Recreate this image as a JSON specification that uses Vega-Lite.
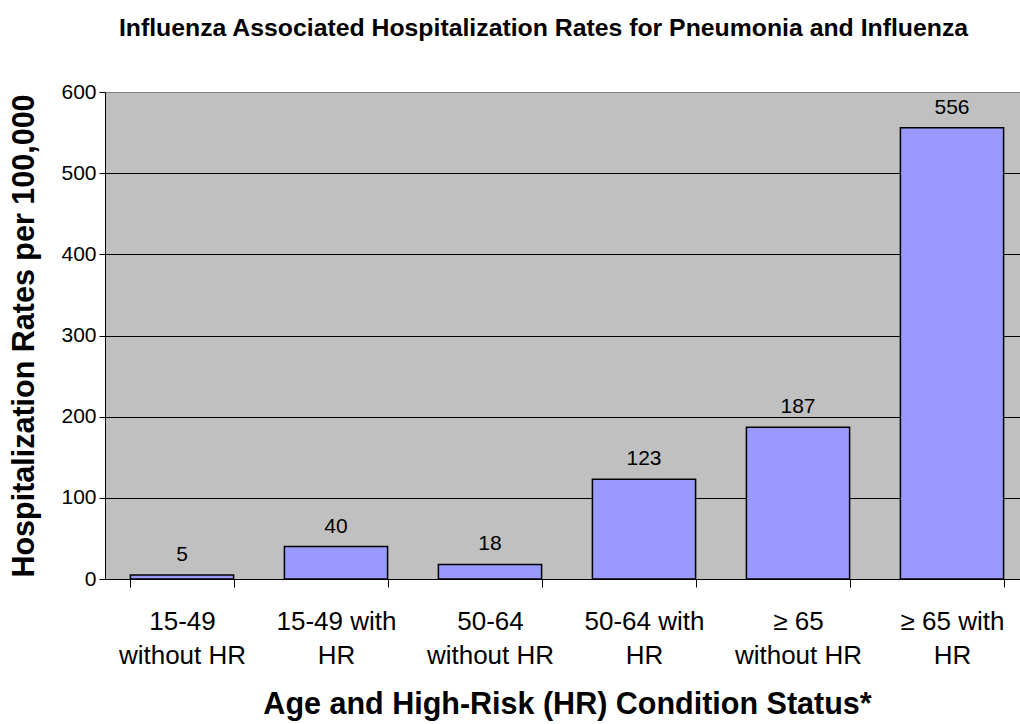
{
  "$schema": "https://vega.github.io/schema/vega-lite/v6.json",
  "width": 915,
  "height": 487,
  "autosize": {"type": "none"},
  "padding": {"left": 105, "top": 92, "right": 0, "bottom": 145},
  "background": "white",
  "config": {
    "font": "Liberation Sans",
    "view": {"fill": "#C0C0C0", "stroke": null}
  },
  "title": {
    "text": "Influenza Associated Hospitalization Rates for Pneumonia and Influenza",
    "fontSize": 24.8,
    "fontWeight": "bold",
    "color": "black",
    "anchor": "middle",
    "frame": "group",
    "dx": -19,
    "baseline": "alphabetic",
    "offset": 20
  },
  "data": {
    "values": [
      {"group": "15-49 without HR", "rate": 5},
      {"group": "15-49 with HR", "rate": 40},
      {"group": "50-64 without HR", "rate": 18},
      {"group": "50-64 with HR", "rate": 123},
      {"group": "≥ 65 without HR", "rate": 187},
      {"group": "≥ 65 with HR", "rate": 556}
    ]
  },
  "encoding": {
    "x": {
      "field": "group",
      "type": "nominal",
      "sort": null,
      "scale": {"range": [0, 924], "paddingInner": 0.33, "paddingOuter": 0.165},
      "axis": {
        "title": "Age and High-Risk (HR) Condition Status*",
        "titleFontSize": 30.5,
        "titleFontWeight": "bold",
        "titleColor": "black",
        "titleX": 462,
        "titleY": 134,
        "titleBaseline": "alphabetic",
        "titleAlign": "center",
        "labelAngle": 0,
        "labelFontSize": 26,
        "labelColor": "black",
        "labelLineHeight": 34,
        "labelPadding": 21,
        "labelBaseline": "top",
        "labelLimit": 0,
        "labelOverlap": false,
        "labelExpr": "!datum.label ? '' : indexof(datum.label, 'without') >= 0 ? [replace(datum.label, ' without HR', ''), 'without HR'] : [replace(datum.label, ' HR', ''), 'HR']",
        "tickBand": "extent",
        "tickSize": 8,
        "tickColor": "black",
        "domainColor": "black",
        "grid": false
      }
    },
    "y": {
      "field": "rate",
      "type": "quantitative",
      "scale": {"domain": [0, 600], "nice": false},
      "axis": {
        "values": [0, 100, 200, 300, 400, 500, 600],
        "title": "Hospitalization Rates per 100,000",
        "titleFontSize": 30.5,
        "titleFontWeight": "bold",
        "titleColor": "black",
        "titleX": -72,
        "titleY": 243.5,
        "titleAngle": -90,
        "titleAlign": "center",
        "titleBaseline": "alphabetic",
        "labelFontSize": 21,
        "labelColor": "black",
        "labelPadding": 3,
        "tickSize": 6,
        "tickColor": "black",
        "domainColor": "black",
        "grid": true,
        "gridColor": {"condition": {"test": "datum.value == 600", "value": "#808080"}, "value": "black"},
        "gridOpacity": 1
      }
    }
  },
  "layer": [
    {
      "mark": {"type": "bar", "fill": "#9999FF", "stroke": "black", "strokeWidth": 1.5}
    },
    {
      "mark": {"type": "text", "fontSize": 21, "color": "black", "baseline": "alphabetic", "align": "center", "dy": -14},
      "encoding": {"text": {"field": "rate", "type": "quantitative"}}
    }
  ]
}
